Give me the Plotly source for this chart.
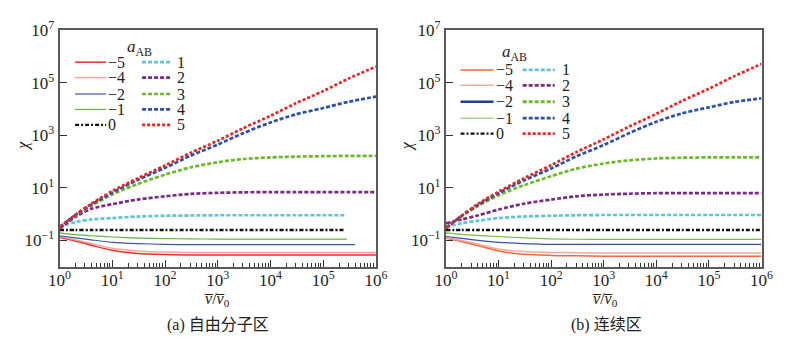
import plotly.graph_objects as go

# ---------------- data ----------------
x_pts = [1, 2, 4, 10, 30, 100, 300, 1e3, 3e3, 1e4, 3e4, 1e5, 3e5, 1e6]
x_short = [1, 2, 4, 10, 30, 100, 300, 1e3, 3e3, 1e4, 3e4, 1e5, 2.5e5]
x_green_end = [1, 2, 4, 10, 30, 100, 300, 1e3, 3e3, 1e4, 3e4, 1e5, 2.8e5]
x_blue_end = [1, 2, 4, 10, 30, 100, 300, 1e3, 3e3, 1e4, 3e4, 1e5, 4e5]

# (a) free molecular regime
a_m5 = [0.132, 0.095, 0.066, 0.042, 0.032, 0.029, 0.028, 0.028, 0.028, 0.028, 0.028, 0.028, 0.028, 0.028]
a_m4 = [0.141, 0.105, 0.076, 0.050, 0.040, 0.036, 0.035, 0.035, 0.035, 0.035, 0.035, 0.035, 0.035, 0.035]
a_m2 = [0.151, 0.126, 0.105, 0.085, 0.076, 0.071, 0.069, 0.069, 0.069, 0.069, 0.069, 0.069, 0.069]
a_m1 = [0.195, 0.166, 0.151, 0.135, 0.123, 0.117, 0.115, 0.112, 0.112, 0.112, 0.112, 0.112, 0.112]
a_0 = [0.25, 0.25, 0.25, 0.25, 0.25, 0.25, 0.25, 0.25, 0.25, 0.25, 0.25, 0.25, 0.25]
a_1 = [0.32, 0.50, 0.63, 0.71, 0.81, 0.87, 0.89, 0.91, 0.91, 0.91, 0.91, 0.91, 0.91]
a_2 = [0.28, 0.79, 1.6, 2.4, 3.6, 4.8, 5.9, 6.5, 6.8, 6.9, 6.9, 6.9, 6.9, 6.9]
a_3 = [0.32, 0.89, 2.1, 5.6, 14, 32, 60, 95, 126, 145, 155, 162, 166, 166]
a_4 = [0.32, 0.93, 2.3, 6.6, 20, 58, 166, 450, 1200, 3100, 6300, 11000, 19000, 30000]
a_5 = [0.32, 0.95, 2.5, 7.6, 23, 72, 214, 630, 1860, 5600, 16600, 49000, 145000, 417000]

# (b) continuum regime
b_m5 = [0.120, 0.090, 0.064, 0.040, 0.030, 0.027, 0.026, 0.025, 0.025, 0.025, 0.025, 0.025, 0.025, 0.025]
b_m4 = [0.126, 0.100, 0.074, 0.047, 0.038, 0.035, 0.034, 0.033, 0.033, 0.033, 0.033, 0.033, 0.033, 0.033]
b_m2 = [0.141, 0.120, 0.100, 0.085, 0.076, 0.071, 0.071, 0.071, 0.071, 0.071, 0.071, 0.071, 0.071, 0.071]
b_m1 = [0.195, 0.170, 0.155, 0.141, 0.125, 0.115, 0.111, 0.110, 0.110, 0.110, 0.110, 0.110, 0.110, 0.110]
b_0 = [0.25, 0.25, 0.25, 0.25, 0.25, 0.25, 0.25, 0.25, 0.25, 0.25, 0.25, 0.25, 0.25, 0.25]
b_1 = [0.32, 0.45, 0.56, 0.71, 0.81, 0.87, 0.91, 0.93, 0.93, 0.93, 0.93, 0.93, 0.93, 0.93]
b_2 = [0.45, 0.63, 0.89, 1.5, 2.5, 3.6, 4.8, 5.6, 6.0, 6.3, 6.3, 6.3, 6.3, 6.3]
b_3 = [0.30, 0.85, 2.0, 5.2, 12.6, 28, 54, 85, 112, 132, 141, 145, 145, 145]
b_4 = [0.30, 0.87, 2.2, 6.3, 19, 55, 158, 430, 1200, 3300, 6800, 11700, 18600, 26000]
b_5 = [0.30, 0.89, 2.4, 7.2, 23, 74, 230, 710, 2140, 6600, 20000, 60000, 178000, 525000]

legend_col1 = ["\u22125", "\u22124", "\u22122", "\u22121", "0"]
legend_col2 = ["1", "2", "3", "4", "5"]
x_tick_vals = [1, 10, 100, 1e3, 1e4, 1e5, 1e6]
x_tick_text = ["10<sup>%d</sup>" % i for i in range(7)]
y_tick_vals = [0.1, 10, 1e3, 1e5, 1e7]
y_tick_text = ["10<sup>\u22121</sup>", "10<sup>1</sup>", "10<sup>3</sup>", "10<sup>5</sup>", "10<sup>7</sup>"]

# ---------------- styles ----------------
FONT = "'Liberation Serif', 'Times New Roman', 'Noto Sans CJK SC', serif"
W, H = 791, 341

sty_a = {
    "-5": dict(color="#e8302a", width=1.5, dash="solid"),
    "-4": dict(color="#f3a5a0", width=1.5, dash="solid"),
    "-2": dict(color="#4058a0", width=1.2, dash="solid"),
    "-1": dict(color="#66b040", width=1.2, dash="solid"),
    "0": dict(color="#111111", width=2.3, dash="4px,2px,2px,2px"),
    "1": dict(color="#5ec4d6", width=2.7, dash="4px,2px"),
    "2": dict(color="#7a2a86", width=2.7, dash="4px,2px"),
    "3": dict(color="#6cb82c", width=2.7, dash="4px,2px"),
    "4": dict(color="#2c50a8", width=2.7, dash="4px,2px"),
    "5": dict(color="#ec2424", width=2.7, dash="3px,2px"),
}
sty_b = dict(sty_a)
sty_b["-5"] = dict(color="#ee6a3a", width=1.5, dash="solid")
sty_b["-4"] = dict(color="#f4a8a2", width=1.5, dash="solid")
sty_b["-2"] = dict(color="#3a52a0", width=1.2, dash="solid")
sty_b["-1"] = dict(color="#78bc48", width=1.2, dash="solid")
leg_b = dict(sty_b)
leg_b["-2"] = dict(color="#1f3f92", width=2.5, dash="solid")
leg_b["-1"] = dict(color="#a8d68a", width=1.5, dash="solid")
leg_b["3"] = dict(color="#6cb82c", width=3.2, dash="4px,2px")

fig = go.Figure()

series_a = [
    ("-5", x_pts, a_m5), ("-4", x_pts, a_m4), ("-2", x_blue_end, a_m2), ("-1", x_green_end, a_m1),
    ("0", x_short, a_0), ("1", x_short, a_1), ("2", x_pts, a_2), ("3", x_pts, a_3),
    ("4", x_pts, a_4), ("5", x_pts, a_5),
]
series_b = [
    ("-5", x_pts, b_m5), ("-4", x_pts, b_m4), ("-2", x_pts, b_m2), ("-1", x_pts, b_m1),
    ("0", x_pts, b_0), ("1", x_pts, b_1), ("2", x_pts, b_2), ("3", x_pts, b_3),
    ("4", x_pts, b_4), ("5", x_pts, b_5),
]
for key, xs, ys in series_a:
    fig.add_trace(go.Scatter(x=xs, y=ys, mode="lines", line=dict(shape="spline", smoothing=0.8, **sty_a[key]),
                             showlegend=False, xaxis="x", yaxis="y"))
for key, xs, ys in series_b:
    fig.add_trace(go.Scatter(x=xs, y=ys, mode="lines", line=dict(shape="spline", smoothing=0.8, **sty_b[key]),
                             showlegend=False, xaxis="x2", yaxis="y2"))

# ---------------- axes ----------------
minor_vals = [m * 10 ** d for d in range(6) for m in range(2, 10)]
def xax(domain, anchor):
    return dict(type="log", domain=domain, anchor=anchor, range=[0, 6],
                tickmode="array", tickvals=x_tick_vals, ticktext=x_tick_text,
                ticks="inside", ticklen=7, tickwidth=1.3, tickcolor="#333",
                ticklabelstandoff=-3,
                minor=dict(tickmode="array", tickvals=minor_vals, ticks="inside", ticklen=4,
                           tickwidth=1, tickcolor="#333", showgrid=False),
                showline=True, linecolor="#5a5a5a", linewidth=2, mirror=True,
                showgrid=False, zeroline=False,
                tickfont=dict(family=FONT, size=17, color="#222"))
def yax(domain, anchor):
    return dict(type="log", domain=domain, anchor=anchor, range=[-2, 7],
                tickmode="array", tickvals=y_tick_vals, ticktext=y_tick_text,
                ticks="inside", ticklen=7, tickwidth=1.3, tickcolor="#333",
                showline=True, linecolor="#5a5a5a", linewidth=2, mirror=True,
                showgrid=False, zeroline=False,
                tickfont=dict(family=FONT, size=17, color="#222"))

yd = [(H - 264) / H, (H - 19) / H]
fig.update_layout(
    width=W, height=H, margin=dict(l=0, r=0, t=0, b=0),
    paper_bgcolor="white", plot_bgcolor="white",
    xaxis=xax([50 / W, 376 / W], "y"),
    yaxis=yax(yd, "x"),
    xaxis2=xax([448 / W, 773 / W], "y2"),
    yaxis2=yax(yd, "x2"),
    font=dict(family=FONT, size=16, color="#222"),
)

# ---------------- legends, labels ----------------
shapes, annots = [], []
def P(x, y):
    return x / W, 1 - y / H

def legend(sty, c1x, c2x, lab1x, lab2x, rows, title_xy):
    keys1 = ["-5", "-4", "-2", "-1", "0"]
    keys2 = ["1", "2", "3", "4", "5"]
    for i, y in enumerate(rows):
        for keys, labels, cx, lx in ((keys1, legend_col1, c1x, lab1x), (keys2, legend_col2, c2x, lab2x)):
            s = sty[keys[i]]
            x0, y0 = P(cx[0], y)
            x1, _ = P(cx[1], y)
            shapes.append(dict(type="line", xref="paper", yref="paper", x0=x0, x1=x1, y0=y0, y1=y0,
                               line=dict(color=s["color"], width=s["width"], dash=s["dash"])))
            ax, ay = P(lx, y)
            annots.append(dict(xref="paper", yref="paper", x=ax, y=ay, text=labels[i], showarrow=False,
                               xanchor="left", yanchor="middle", borderpad=0,
                               font=dict(family=FONT, size=16, color="#222")))
    tx, ty = P(*title_xy)
    annots.append(dict(xref="paper", yref="paper", x=tx, y=ty, text="<i>a</i><sub>AB</sub>", showarrow=False,
                       xanchor="center", yanchor="middle", borderpad=0,
                       font=dict(family=FONT, size=17, color="#222")))

legend(sty_a, (66, 98), (135, 165), 99, 170, [52, 68, 85, 101, 117], (132, 37))
legend(leg_b, (463, 497), (527, 560), 498, 566, [60, 76, 93, 110, 126], (519, 42))

for cx, cap in ((212, "(a) 自由分子区"), (612, "(b) 连续区")):
    x, y = P(cx, 298)
    annots.append(dict(xref="paper", yref="paper", x=x, y=y, showarrow=False, xanchor="center", yanchor="middle",
                       text="<i>v\u0305</i>/<i>v\u0305</i><sub>0</sub>", font=dict(family=FONT, size=16, color="#222")))
    x, y = P(cx + 1, 324)
    annots.append(dict(xref="paper", yref="paper", x=x, y=y, showarrow=False, xanchor="center", yanchor="middle",
                       text=cap, font=dict(family=FONT, size=16, color="#222")))
for cx in (12, 408):
    x, y = P(cx, 139)
    annots.append(dict(xref="paper", yref="paper", x=x, y=y, showarrow=False, xanchor="center", yanchor="middle",
                       text="<i>χ</i>", textangle=-90, font=dict(family=FONT, size=16, color="#222")))

fig.update_layout(shapes=shapes, annotations=annots)
fig.write_html("out.html", post_script="document.body.style.margin='0';document.body.style.padding='0';")
